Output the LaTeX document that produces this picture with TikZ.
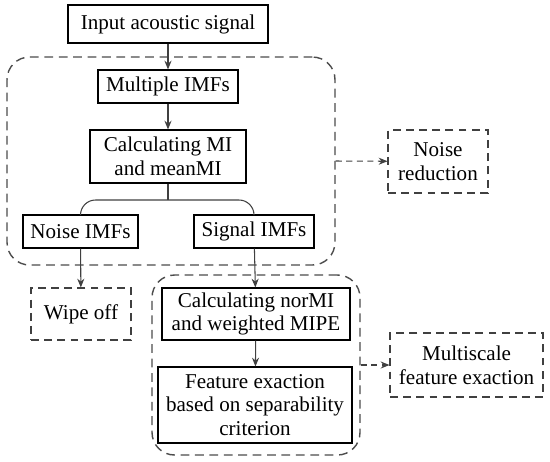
\documentclass[tikz,border=0pt]{standalone}
\usepackage{fontspec}
\setmainfont{Liberation Serif}
\usepackage{tikz}
\usetikzlibrary{arrows.meta,positioning,calc}

\begin{document}
\begin{tikzpicture}[x=0.02cm, y=-0.02cm,
  every node/.style={font=\fontsize{12}{13.5}\selectfont,align=center,inner sep=0pt},
  box/.style={rectangle,draw,line width=.6pt},
  dbox/.style={box,draw=black!75,dash pattern=on 4.5pt off 3pt},
  region/.style={rectangle,draw=black!70,line width=.8pt,dash pattern=on 5pt off 3.2pt,rounded corners=.45cm},
  edge/.style={draw=black!75,line width=.6pt,-{Stealth[length=5pt,width=4pt]}},
  dedge/.style={edge,dash pattern=on 3.5pt off 2.5pt}]
  \useasboundingbox (0,0) rectangle (550,461);
  % dashed groups
  \node[region,minimum width=6.56cm,minimum height=4.16cm] (grp1) at (171,161) {};
  \node[region,minimum width=4.16cm,minimum height=3.6cm] (grp2) at (256,365) {};
  % steps
  \node[box,minimum width=4cm,minimum height=.76cm] (in) at (168,24) {Input acoustic signal};
  \node[box,minimum width=2.8cm,minimum height=.66cm] (imf) at (168,86.5) {Multiple IMFs};
  \node[box,minimum width=3.12cm,minimum height=1.06cm] (mi) at (168,156.5) {Calculating MI\\and meanMI};
  \node[box,minimum width=2.3cm,minimum height=.66cm] (noise) at (80.5,231.5) {Noise IMFs};
  \node[box,minimum width=2.4cm,minimum height=.66cm] (sig) at (254,231.5) {Signal IMFs};
  \node[dbox,minimum width=2cm,minimum height=1.04cm] (wipe) at (81,314) {Wipe off};
  \node[box,minimum width=3.76cm,minimum height=1.04cm] (nor) at (256,314) {Calculating norMI\\and weighted MIPE};
  \node[box,minimum width=3.88cm,minimum height=1.52cm] (feat) at (255,405) {Feature exaction\\based on separability\\criterion};
  \node[dbox,minimum width=2cm,minimum height=1.26cm] (nred) at (438,161.5) {Noise\\reduction};
  \node[dbox,minimum width=3.06cm,minimum height=1.28cm] (msfe) at (466.5,365) {Multiscale\\feature exaction};
  \coordinate (fork) at (168,200);
  % connectors
  \draw[edge] (in) -- (imf);
  \draw[edge] (imf) -- (mi);
  \draw[draw=black!75,line width=.6pt] (mi) -- (fork);
  \draw[draw=black!75,line width=.6pt,rounded corners=.3cm] (noise.north) |- (fork) -| (sig.north);
  \draw[edge] (noise) -- (wipe);
  \draw[edge] (sig) -- (nor);
  \draw[edge] (nor) -- (feat);
  \draw[dedge] (grp1.east) -- (nred);
  \draw[dedge] (grp2.east) -- (msfe);
\end{tikzpicture}
\end{document}
